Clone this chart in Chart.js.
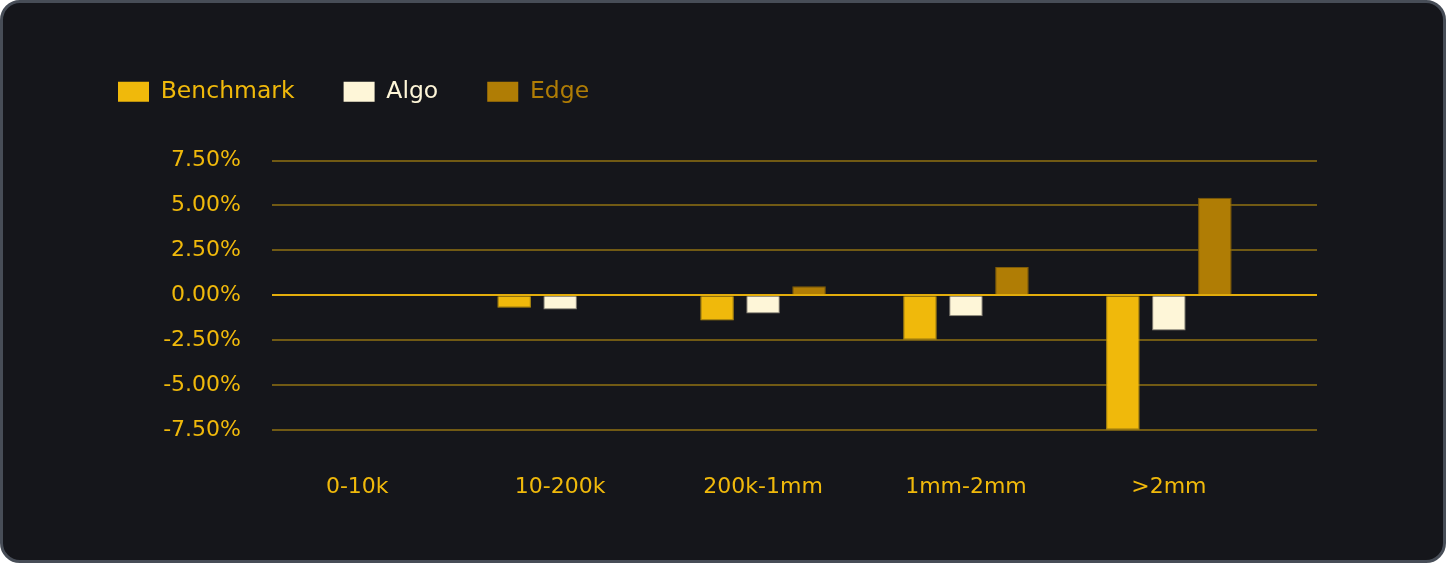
<!DOCTYPE html>
<html>
<head>
<meta charset="utf-8">
<script src="https://cdn.jsdelivr.net/npm/chart.js@4.4.1/dist/chart.umd.min.js"></script>
<style>
  html, body { margin: 0; padding: 0; background: #ffffff; }
  .card {
    position: absolute; left: 0; top: 0;
    width: 1446px; height: 563px; box-sizing: border-box;
    border: 3px solid #474d57; border-radius: 20px;
    background: #15161b; overflow: hidden;
  }
  .card canvas { position: absolute; left: 0; top: 0; }
</style>
</head>
<body>
<div class="card"><canvas id="c" width="1440" height="557"></canvas></div>
<script>
const categories = ['0-10k', '10-200k', '200k-1mm', '1mm-2mm', '>2mm'];
const seriesNames = ['Benchmark', 'Algo', 'Edge'];
const benchmark = [0, -0.70, -1.41, -2.48, -7.48];
const algo = [0, -0.80, -1.02, -1.17, -1.96];
const edge = [0, 0, 0.50, 1.57, 5.43];
const yTicks = [-7.5, -5, -2.5, 0, 2.5, 5, 7.5];

const colors = ['#F0B90B', '#FEF6D8', '#B07D05'];
const borders = ['#b8900e', '#8a8578', '#7f5c08'];
const FONT = 'DejaVu Sans';

const datasets = [benchmark, algo, edge].map((vals, i) => ({
  label: seriesNames[i],
  data: vals,
  backgroundColor: colors[i],
  borderColor: borders[i],
  borderWidth: 1,
  borderSkipped: 'start'
}));

// extra space between the legend and the plot area
const legendGap = {
  id: 'legendGap',
  beforeInit(chart) {
    const lg = chart.legend;
    if (!lg) return;
    const orig = lg.fit.bind(lg);
    lg.fit = function () { orig(); this.height += 47; };
  }
};

new Chart(document.getElementById('c'), {
  type: 'bar',
  data: { labels: categories.map((_, i) => i), datasets },
  plugins: [legendGap],
  options: {
    responsive: false,
    animation: false,
    devicePixelRatio: 1,
    categoryPercentage: 0.68,
    barPercentage: 0.73,
    layout: { padding: { left: 66, top: 28, right: 126, bottom: 0 } },
    plugins: {
      legend: {
        position: 'top',
        align: 'start',
        labels: {
          boxWidth: 31,
          boxHeight: 20,
          padding: 49,
          font: { family: FONT, size: 23.5 },
          generateLabels: (chart) => chart.data.datasets.map((ds, i) => ({
            text: ds.label,
            fillStyle: ds.backgroundColor,
            strokeStyle: ds.backgroundColor,
            lineWidth: 0,
            fontColor: ds.backgroundColor,
            hidden: false,
            datasetIndex: i
          }))
        }
      },
      tooltip: { enabled: false }
    },
    scales: {
      x: {
        type: 'linear',
        offset: false,
        min: -0.42,
        max: 4.73,
        afterFit: (s) => { s.height = 130; },
        afterBuildTicks: (s) => { s.ticks = categories.map((_, i) => ({ value: i })); },
        grid: { display: false, drawTicks: false, offset: false },
        border: { display: false },
        ticks: {
          includeBounds: false,
          stepSize: 1,
          padding: 44,
          color: '#F0B90B',
          font: { family: FONT, size: 22 },
          callback: (v) => categories[v]
        }
      },
      y: {
        min: yTicks[0],
        max: yTicks[yTicks.length - 1],
        afterFit: (s) => { s.width = 203; },
        afterBuildTicks: (s) => { s.ticks = yTicks.map(v => ({ value: v })); },
        border: { display: false },
        grid: {
          drawTicks: false,
          lineWidth: 2,
          color: (ctx) => ctx.tick && ctx.tick.value === 0 ? '#e3ad0c' : 'rgba(240,185,11,0.42)'
        },
        ticks: {
          padding: 31,
          color: '#F0B90B',
          font: { family: FONT, size: 22 },
          callback: (v) => v.toFixed(2) + '%'
        }
      }
    }
  }
});
</script>
</body>
</html>
